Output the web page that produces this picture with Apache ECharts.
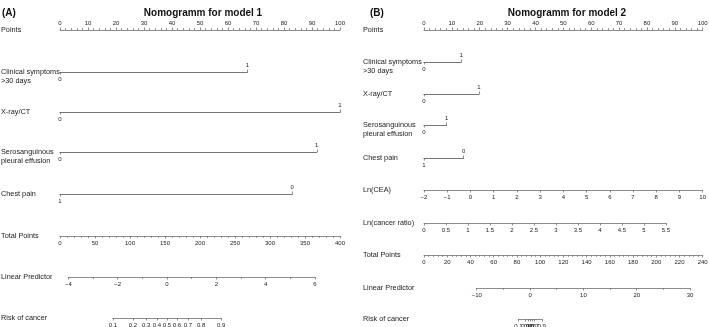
<!DOCTYPE html>
<html>
<head>
<meta charset="utf-8">
<script src="https://cdn.jsdelivr.net/npm/echarts@6/dist/echarts.min.js"></script>
<style>
html, body { margin: 0; padding: 0; background: #fff; }
#chart { width: 709px; height: 327px; }
</style>
</head>
<body>
<div id="chart"></div>
<script>
// ---- model 1 ----
var binNames1 = ['Clinical symptoms\n>30 days', 'X-ray/CT', 'Serosanguinous\npleural effusion', 'Chest pain'];
var binPoints1 = [66.9, 100, 91.7, 82.9];   // points of the higher scoring level
var binLeft1 = [0, 0, 0, 1];                // level sitting at 0 points
var totalPoints1 = [0, 400];
var totalStep1 = 50;
var lp1 = [-4, 6];
var lpStep1 = 2;
var lpAtTotal1 = [11.9, 364.3];             // total points where LP axis starts / ends
var risk1 = [0.1, 0.2, 0.3, 0.4, 0.5, 0.6, 0.7, 0.8, 0.9];

// ---- model 2 ----
var binNames2 = ['Clinical symptoms\n>30 days', 'X-ray/CT', 'Serosanguinous\npleural effusion', 'Chest pain'];
var binPoints2 = [13.3, 19.7, 8.1, 14.2];
var binLeft2 = [0, 0, 0, 1];
var contNames2 = ['Ln(CEA)', 'Ln(cancer ratio)'];
var contRange2 = [[-2, 10], [0, 5.5]];
var contPoints2 = [[0, 100], [0, 86.8]];
var contStep2 = [1, 0.5];
var totalPoints2 = [0, 240];
var totalStep2 = 20;
var lp2 = [-10, 30];
var lpStep2 = 10;
var lpAtTotal2 = [45.4, 229.1];
var risk2 = [0.1, 0.2, 0.3, 0.4, 0.5, 0.6, 0.7, 0.8, 0.9];

var fontFam = '"Liberation Sans", Arial, sans-serif';
var lineC = '#707070', textC = '#222';

function logit(p) { return Math.log(p / (1 - p)); }
function expit(v) { return 1 / (1 + Math.exp(-v)); }
function minus(v) { return v < 0 ? '\u2212' + (-v) : '' + v; }

var grids = [], xAxes = [], yAxes = [], texts = [];

function newGrid(left, width, top) {
    grids.push({ left: left, width: width, top: top, height: 0, containLabel: false, outerBoundsMode: 'none' });
    yAxes.push({ gridIndex: grids.length - 1, show: false, min: 0, max: 1 });
    return grids.length - 1;
}

function axis(gi, pos, min, max) {
    return {
        gridIndex: gi, type: 'value', position: pos, min: min, max: max, silent: true,
        splitLine: { show: false },
        axisLine: { show: true, onZero: false, lineStyle: { color: lineC, width: 0.8 } },
        axisTick: { show: true, length: 2.5, lineStyle: { color: lineC, width: 0.8 } },
        minorTick: { show: false },
        axisLabel: { show: true, fontSize: 6, color: textC, margin: 4, fontFamily: fontFam, showMinLabel: true, showMaxLabel: true }
    };
}

function rowLabel(x, y, txt) {
    texts.push({
        type: 'text', x: x, y: y - 4.25, silent: true,
        style: { text: txt, fontSize: 7.3, fontFamily: fontFam, fill: textC, lineHeight: 8.5, verticalAlign: 'top' }
    });
}

function minorTick(n) {
    return { show: true, splitNumber: n, length: 1.8, lineStyle: { color: lineC, width: 0.8 } };
}

function buildPanel(L, d) {
    var r = 0, g, a;
    // Points
    g = newGrid(L.x0, L.w, L.rows[r]);
    a = axis(g, 'top', 0, 100);
    a.interval = 10;
    a.minorTick = minorTick(5);
    xAxes.push(a);
    rowLabel(L.labelX, L.rows[r], 'Points');
    r++;
    // binary predictors
    d.binNames.forEach(function (nm, i) {
        var y = L.rows[r];
        var gi = newGrid(L.x0, d.binPoints[i] / 100 * L.w, y);
        var lo = d.binLeft[i], hi = 1 - lo;
        var b = axis(gi, 'bottom', 0, 1);
        b.inverse = lo === 1;
        b.axisTick.customValues = [lo];
        b.axisLabel.customValues = [lo];
        var t = axis(gi, 'top', 0, 1);
        t.inverse = lo === 1;
        t.axisTick.customValues = [hi];
        t.axisLabel.customValues = [hi];
        xAxes.push(b, t);
        rowLabel(L.labelX, y, nm);
        r++;
    });
    // continuous predictors
    (d.contNames || []).forEach(function (nm, i) {
        var y = L.rows[r];
        var p = d.contPoints[i];
        var gi = newGrid(L.x0 + p[0] / 100 * L.w, (p[1] - p[0]) / 100 * L.w, y);
        var c = axis(gi, 'bottom', d.contRange[i][0], d.contRange[i][1]);
        c.interval = d.contStep[i];
        c.axisLabel.formatter = minus;
        xAxes.push(c);
        rowLabel(L.labelX, y, nm);
        r++;
    });
    // Total points
    var tp = d.total;
    g = newGrid(L.x0, L.w, L.rows[r]);
    a = axis(g, 'bottom', tp[0], tp[1]);
    a.interval = d.totalStep;
    a.minorTick = minorTick(5);
    xAxes.push(a);
    rowLabel(L.labelX, L.rows[r], 'Total Points');
    r++;
    // Linear predictor
    var tpx = function (v) { return L.x0 + (v - tp[0]) / (tp[1] - tp[0]) * L.w; };
    var lpLeft = tpx(d.lpAtTotal[0]), lpW = tpx(d.lpAtTotal[1]) - lpLeft;
    g = newGrid(lpLeft, lpW, L.rows[r]);
    a = axis(g, 'bottom', d.lp[0], d.lp[1]);
    a.interval = d.lpStep;
    a.minorTick = minorTick(2);
    a.axisLabel.formatter = minus;
    xAxes.push(a);
    rowLabel(L.labelX, L.rows[r], 'Linear Predictor');
    r++;
    // Risk
    var lpx = function (v) { return lpLeft + (v - d.lp[0]) / (d.lp[1] - d.lp[0]) * lpW; };
    var rv = d.risk.map(logit);
    var rl = lpx(rv[0]);
    g = newGrid(rl, lpx(rv[rv.length - 1]) - rl, L.rows[r]);
    a = axis(g, 'bottom', rv[0], rv[rv.length - 1]);
    a.axisTick.customValues = rv;
    a.axisLabel.customValues = rv;
    a.axisLabel.formatter = function (v) { return '' + Math.round(expit(v) * 100) / 100; };
    xAxes.push(a);
    rowLabel(L.labelX, L.rows[r], 'Risk of cancer');
}

buildPanel(
    { x0: 60, w: 280, labelX: 1, rows: [30, 72, 112, 152, 194, 236, 277, 318] },
    { binNames: binNames1, binPoints: binPoints1, binLeft: binLeft1, total: totalPoints1, totalStep: totalStep1,
      lp: lp1, lpStep: lpStep1, lpAtTotal: lpAtTotal1, risk: risk1 }
);
buildPanel(
    { x0: 424, w: 278.7, labelX: 363, rows: [30, 62, 94, 125, 158, 190, 223, 255, 288, 319] },
    { binNames: binNames2, binPoints: binPoints2, binLeft: binLeft2, contNames: contNames2, contRange: contRange2,
      contPoints: contPoints2, contStep: contStep2, total: totalPoints2, totalStep: totalStep2,
      lp: lp2, lpStep: lpStep2, lpAtTotal: lpAtTotal2, risk: risk2 }
);

// panel headings
function heading(x, txt, align) {
    texts.push({
        type: 'text', x: x, y: 13, silent: true,
        style: { text: txt, fontSize: 10, fontWeight: 'bold', fontFamily: fontFam, fill: '#111', align: align, verticalAlign: 'middle' }
    });
}
heading(2, '(A)', 'left');
heading(203, 'Nomogramm for model 1', 'center');
heading(370, '(B)', 'left');
heading(567, 'Nomogramm for model 2', 'center');

var chart = echarts.init(document.getElementById('chart'), null, { renderer: 'canvas' });
chart.setOption({
    animation: false,
    backgroundColor: '#fff',
    grid: grids,
    xAxis: xAxes,
    yAxis: yAxes,
    graphic: { elements: texts },
    series: []
});
</script>
</body>
</html>
